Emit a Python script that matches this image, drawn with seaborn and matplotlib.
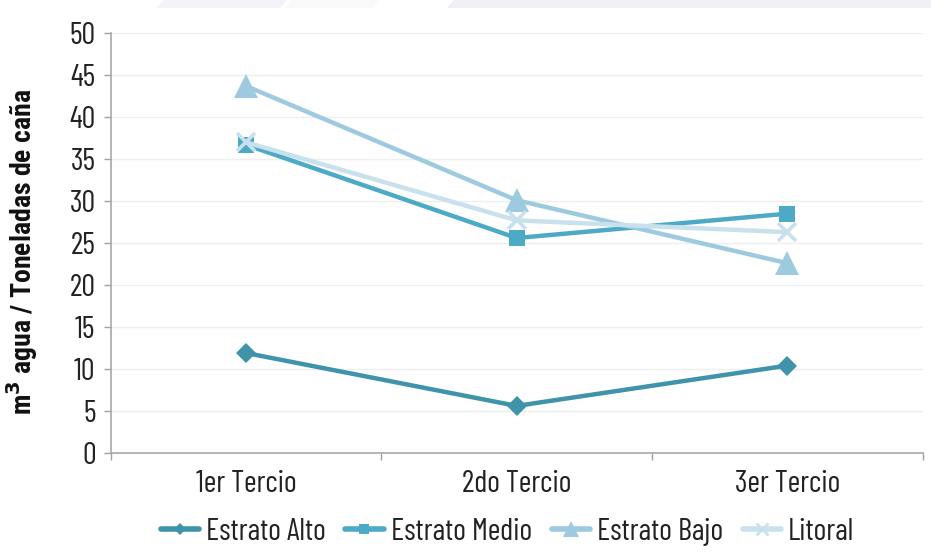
import matplotlib
matplotlib.use("Agg")
import matplotlib.pyplot as plt
import seaborn as sns
import pandas as pd
from matplotlib.patches import Polygon
from matplotlib.lines import Line2D

periods = ["1er Tercio", "2do Tercio", "3er Tercio"]
estrato_alto = [11.9, 5.6, 10.4]
estrato_medio = [36.7, 25.6, 28.5]
estrato_bajo = [43.7, 30.1, 22.6]
litoral = [37.0, 27.7, 26.3]

series_names = ["Estrato Alto", "Estrato Medio", "Estrato Bajo", "Litoral"]
series_values = [estrato_alto, estrato_medio, estrato_bajo, litoral]
colors = ["#3F93AB", "#4DAAC7", "#9DCADF", "#C8E1EC"]
markers = {"Estrato Alto": "D", "Estrato Medio": "s", "Estrato Bajo": "^", "Litoral": "x"}
msizes = {"Estrato Alto": 10, "Estrato Medio": 12, "Estrato Bajo": 17, "Litoral": 13}

sns.set_theme(style="white")
font = ["Barlow Condensed", "Roboto Condensed", "IBM Plex Sans Condensed", "DejaVu Sans"]
bold_font = ["Roboto Condensed", "Barlow Condensed", "IBM Plex Sans Condensed", "DejaVu Sans"]
plt.rcParams["font.family"] = font

W, H = 931, 553
fig = plt.figure(figsize=(W / 100, H / 100), dpi=100)
ax = fig.add_axes([0.119, 0.181, 0.872, 0.759])

# faint banner stripes along the top edge (pixel spans, slanted left edges)
for x0, x1, c in [(157, 280, "#F3F4F7"), (285, 373, "#F9F9FB"), (447, 940, "#EFF0F4")]:
    pts = [(x0 + 7, H), (x1 + 7, H), (x1, H - 8), (x0, H - 8)]
    fig.patches.append(Polygon([(px / W, py / H) for px, py in pts], closed=True,
                               transform=fig.transFigure, facecolor=c, edgecolor="none",
                               zorder=0))

for name, vals, c in zip(series_names, series_values, colors):
    d = pd.DataFrame({"idx": range(len(periods)), "valor": vals})
    is_x = name == "Litoral"
    sns.lineplot(data=d, x="idx", y="valor", color=c, linewidth=3.2, marker=markers[name],
                 markersize=msizes[name], markeredgewidth=2.6 if is_x else 0,
                 markeredgecolor=c, markerfacecolor=c, ax=ax, sort=False, legend=False)

ax.set_xlim(-0.5, 2.5)
ax.set_ylim(0, 50)
ax.set_yticks(range(0, 51, 5))
ax.set_xticks(range(3))
ax.set_xticklabels(periods)
ax.set_xticks([-0.5, 0.5, 1.5, 2.5], minor=True)
ax.tick_params(axis="x", which="major", length=0, pad=12, labelsize=22, colors="#222222")
ax.tick_params(axis="x", which="minor", length=5, width=1, color="#A0A0A0", direction="out",
               bottom=True)
ax.tick_params(axis="y", length=5, width=1, color="#A0A0A0", direction="out", pad=6,
               labelsize=22, labelcolor="#222222", left=True)
ax.yaxis.grid(True, color="#EFEFEF", linewidth=1)
ax.set_axisbelow(True)
for s in ["top", "right"]:
    ax.spines[s].set_visible(False)
for s in ["left", "bottom"]:
    ax.spines[s].set_color("#A8A8A8")
    ax.spines[s].set_linewidth(1.2)

ax.set_xlabel("")
ax.set_ylabel("m$^\\mathbf{3}$ agua / Toneladas de caña", fontsize=20, fontweight="bold",
              color="#111111", family=bold_font)
ax.yaxis.set_label_coords(-0.087, 0.479)

handles = []
for name, c in zip(series_names, colors):
    h = Line2D([], [], color=c, linewidth=4, marker=markers[name],
               markersize=msizes[name] * 0.65, markeredgewidth=2 if name == "Litoral" else 0,
               markeredgecolor=c)
    handles.append(h)
fig.legend(handles, series_names, loc="center", bbox_to_anchor=(0.545, 0.038), ncol=4,
           frameon=False, fontsize=22, handlelength=1.25, handletextpad=0.23,
           columnspacing=0.65, labelcolor="#222222")

fig.savefig("out.png", dpi=100)
